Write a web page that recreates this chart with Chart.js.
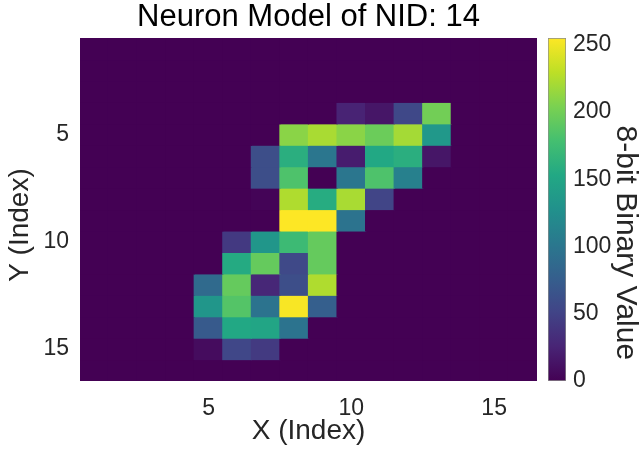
<!DOCTYPE html>
<html>
<head>
<meta charset="utf-8">
<title>Neuron Model of NID: 14</title>
<script src="https://cdn.jsdelivr.net/npm/chart.js@4.4.0/dist/chart.umd.min.js"></script>
<style>
  html, body { margin: 0; padding: 0; background: #fff; }
  #wrap { position: relative; width: 640px; height: 459px; }
  #heat { position: absolute; left: 0; top: 0; }
  #cbar { position: absolute; left: 540px; top: 0; }
</style>
</head>
<body>
<div id="wrap">
  <canvas id="heat" width="540" height="459"></canvas>
  <canvas id="cbar" width="100" height="459"></canvas>
</div>
<script>
// pixel columns (X index)
const columns = ['1', '2', '3', '4', '5', '6', '7', '8', '9', '10', '11', '12', '13', '14', '15', '16'];

// 8-bit values, one array per row (Y index 1..16)
const row1  = [0, 0, 0, 0, 0, 0, 0, 0, 0, 0, 0, 0, 0, 0, 0, 0];
const row2  = [0, 0, 0, 0, 0, 0, 0, 0, 0, 0, 0, 0, 0, 0, 0, 0];
const row3  = [0, 0, 0, 0, 0, 0, 0, 0, 0, 0, 0, 0, 0, 0, 0, 0];
const row4  = [0, 0, 0, 0, 0, 0, 0, 0, 0, 25, 15, 55, 200, 0, 0, 0];
const row5  = [0, 0, 0, 0, 0, 0, 0, 210, 222, 210, 197, 220, 135, 0, 0, 0];
const row6  = [0, 0, 0, 0, 0, 0, 60, 160, 100, 20, 153, 160, 15, 0, 0, 0];
const row7  = [0, 0, 0, 0, 0, 0, 60, 183, 0, 100, 183, 110, 0, 0, 0, 0];
const row8  = [0, 0, 0, 0, 0, 0, 2, 224, 157, 222, 52, 0, 0, 0, 0, 0];
const row9  = [0, 0, 0, 0, 0, 0, 0, 255, 255, 97, 0, 0, 0, 0, 0, 0];
const row10 = [0, 0, 0, 0, 0, 42, 133, 173, 194, 0, 0, 0, 0, 0, 0, 0];
const row11 = [0, 0, 0, 0, 0, 155, 194, 56, 194, 0, 0, 0, 0, 0, 0, 0];
const row12 = [0, 0, 0, 0, 88, 194, 28, 60, 224, 0, 0, 0, 0, 0, 0, 0];
const row13 = [0, 0, 0, 0, 133, 186, 97, 253, 77, 0, 0, 0, 0, 0, 0, 0];
const row14 = [0, 0, 0, 0, 72, 153, 150, 97, 0, 0, 0, 0, 0, 0, 0, 0];
const row15 = [0, 0, 0, 0, 8, 54, 43, 0, 0, 0, 0, 0, 0, 0, 0, 0];
const row16 = [0, 0, 0, 0, 0, 0, 0, 0, 0, 0, 0, 0, 0, 0, 0, 0];
const rows = [row1, row2, row3, row4, row5, row6, row7, row8,
              row9, row10, row11, row12, row13, row14, row15, row16];

const xTicks = [5, 10, 15];
const yTicks = [5, 10, 15];
const colorTicks = [0, 50, 100, 150, 200, 250];
const colorMax = 255;

const FONT = '"Liberation Sans", Arial, Helvetica, sans-serif';
const TEXT = '#262626';

// viridis colormap
const viridisStops = ['#440154', '#482475', '#414487', '#355f8d', '#2a788e', '#21918c',
                      '#22a884', '#44bf70', '#7ad151', '#bddf26', '#fde725'];

function hexToRgb(h) {
    return [parseInt(h.substr(1, 2), 16), parseInt(h.substr(3, 2), 16), parseInt(h.substr(5, 2), 16)];
}

function viridis(t) {
    t = Math.max(0, Math.min(1, t));
    const pos = t * (viridisStops.length - 1);
    const i = Math.min(Math.floor(pos), viridisStops.length - 2);
    const f = pos - i;
    const a = hexToRgb(viridisStops[i]);
    const b = hexToRgb(viridisStops[i + 1]);
    const c = a.map((v, k) => Math.round(v + (b[k] - v) * f));
    return `rgb(${c[0]}, ${c[1]}, ${c[2]})`;
}

// fill the plot area with the zero colour so no seams show between cells
const areaFill = {
    id: 'areaFill',
    beforeDatasetsDraw(chart) {
        const { ctx, chartArea } = chart;
        ctx.save();
        ctx.fillStyle = viridis(0);
        ctx.fillRect(chartArea.left, chartArea.top, chartArea.width, chartArea.height);
        ctx.restore();
    }
};

// one floating-bar dataset per row, each cell spans [y-0.5, y+0.5]
const datasets = rows.map((values, r) => ({
    label: 'Y ' + (r + 1),
    data: values.map(() => [r + 0.5, r + 1.5]),
    backgroundColor: (ctx) => viridis(values[ctx.dataIndex] / colorMax),
    borderWidth: 0,
    borderSkipped: false,
    inflateAmount: 0.6,
    grouped: false,
    categoryPercentage: 1,
    barPercentage: 1
}));

new Chart(document.getElementById('heat'), {
    type: 'bar',
    data: { labels: columns, datasets: datasets },
    plugins: [areaFill],
    options: {
        responsive: false,
        animation: false,
        layout: { padding: { left: 0, right: 3, top: 0, bottom: 0 } },
        plugins: {
            legend: { display: false },
            tooltip: { enabled: false },
            title: {
                display: true,
                text: 'Neuron Model of NID: 14',
                color: '#000',
                fullSize: false,
                font: { family: FONT, size: 31, weight: 'normal', lineHeight: 1 },
                padding: { top: 2, bottom: 5 }
            }
        },
        scales: {
            x: {
                grid: { display: false, drawTicks: false },
                border: { display: false },
                ticks: {
                    color: TEXT,
                    font: { family: FONT, size: 23 },
                    padding: 14,
                    maxRotation: 0,
                    autoSkip: false,
                    callback: (v, i) => xTicks.includes(Number(columns[i])) ? columns[i] : ''
                },
                title: {
                    display: true,
                    text: 'X (Index)',
                    color: TEXT,
                    font: { family: FONT, size: 28, lineHeight: 1 },
                    padding: { top: 0, bottom: 14 }
                },
                afterFit: (scale) => { scale.height = 78; }
            },
            y: {
                type: 'linear',
                reverse: true,
                min: 0.5,
                max: 16.5,
                grid: { display: false, drawTicks: false },
                border: { display: false },
                afterBuildTicks: (scale) => { scale.ticks = yTicks.map(v => ({ value: v })); },
                ticks: {
                    color: TEXT,
                    font: { family: FONT, size: 23 },
                    padding: 11
                },
                title: {
                    display: true,
                    text: 'Y (Index)    ',
                    color: TEXT,
                    font: { family: FONT, size: 28, lineHeight: 1 },
                    padding: { top: 6, bottom: 0 }
                },
                afterFit: (scale) => { scale.width = 80; }
            }
        }
    }
});

// colorbar
new Chart(document.getElementById('cbar'), {
    type: 'bar',
    data: {
        labels: ['scale'],
        datasets: [{
            data: [colorMax],
            backgroundColor: (ctx) => {
                const area = ctx.chart.chartArea;
                if (!area) return viridis(0);
                const g = ctx.chart.ctx.createLinearGradient(0, area.bottom, 0, area.top);
                viridisStops.forEach((c, i) => g.addColorStop(i / (viridisStops.length - 1), c));
                return g;
            },
            borderColor: '#8c8c8c',
            borderWidth: 1,
            borderSkipped: false,
            categoryPercentage: 1,
            barPercentage: 1
        }]
    },
    options: {
        responsive: false,
        animation: false,
        layout: { padding: { left: 8, right: 0, top: 38, bottom: 78 } },
        plugins: { legend: { display: false }, tooltip: { enabled: false } },
        scales: {
            x: { display: false },
            y: {
                position: 'right',
                min: 0,
                max: colorMax,
                grid: { display: false, drawTicks: false },
                border: { display: false },
                afterBuildTicks: (scale) => { scale.ticks = colorTicks.map(v => ({ value: v })); },
                ticks: {
                    color: TEXT,
                    font: { family: FONT, size: 23 },
                    padding: 7
                },
                title: {
                    display: true,
                    text: '        8-bit Binary Value',
                    color: TEXT,
                    font: { family: FONT, size: 30, lineHeight: 1 },
                    padding: { top: 0, bottom: 0 }
                },
                afterFit: (scale) => { scale.width = 74; }
            }
        }
    }
});
</script>
</body>
</html>
